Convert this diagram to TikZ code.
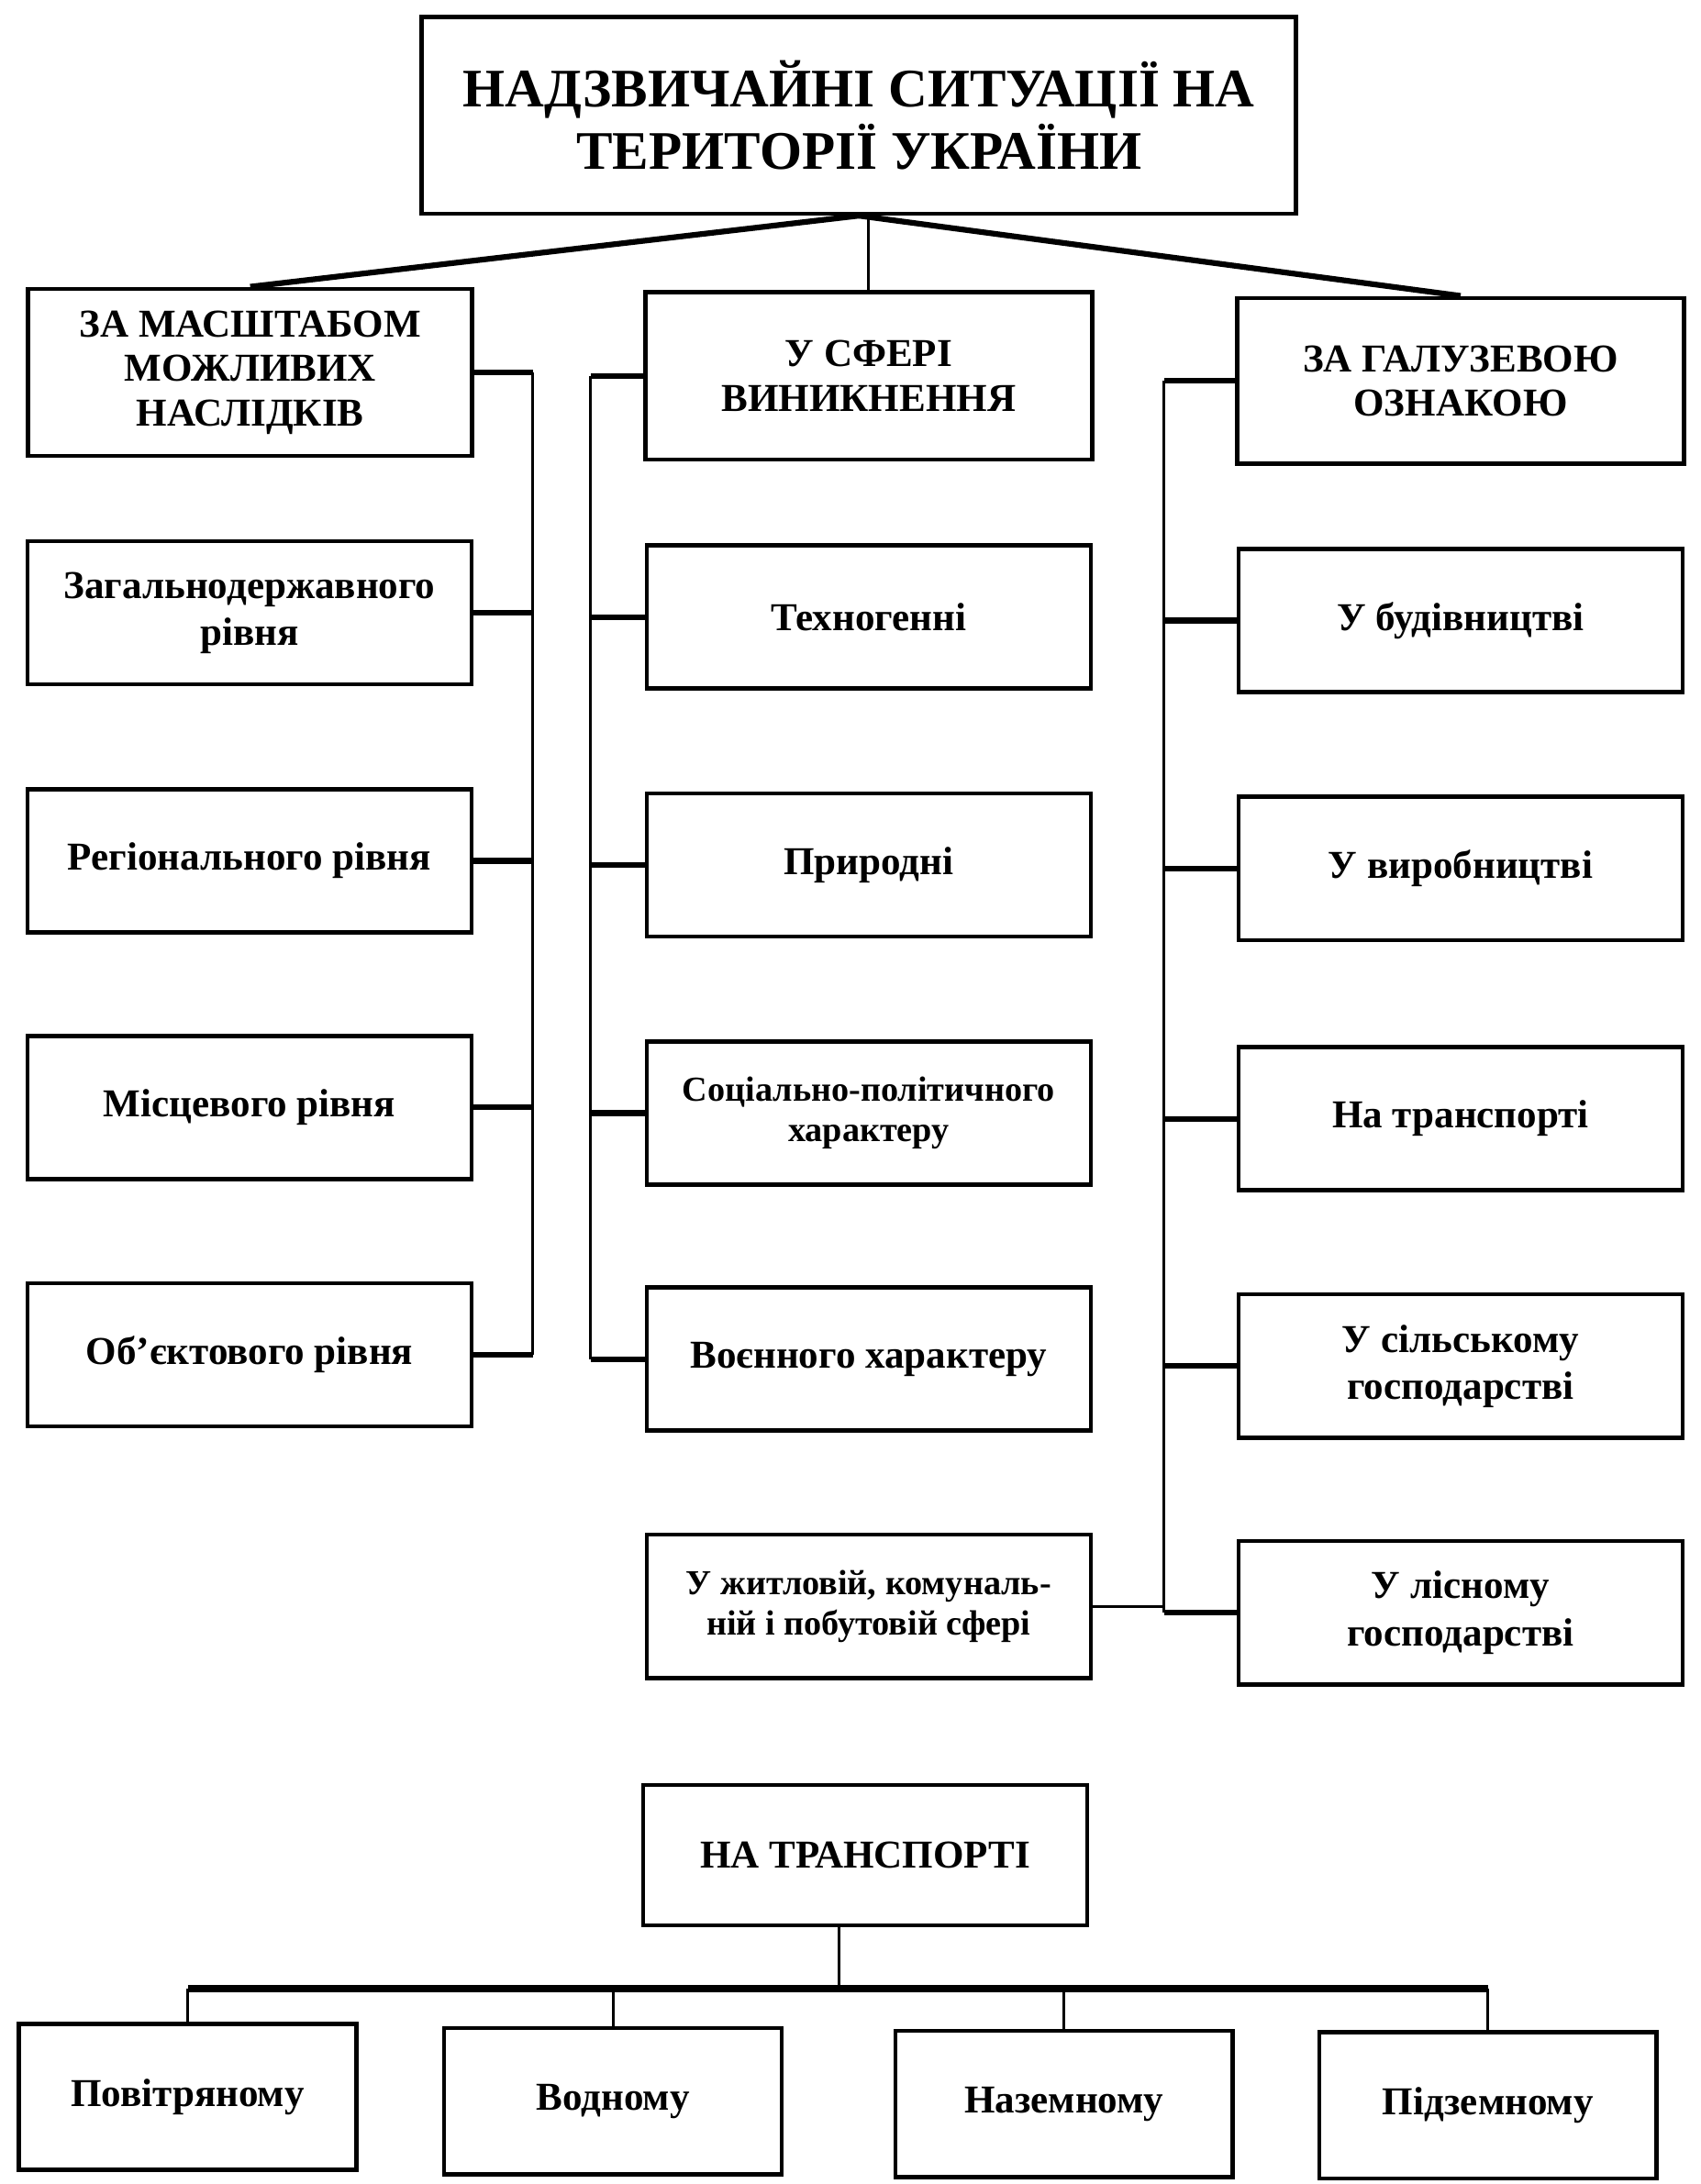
\documentclass[tikz,border=0pt]{standalone}
\usepackage{fontspec}
\setmainfont{Liberation Serif}
\usetikzlibrary{calc}
\tikzset{
  box/.style={draw, line width=1.7pt, align=center, inner sep=0pt, font=\bfseries\fontsize{16}{19}\selectfont},
  smalltext/.style={font=\bfseries\fontsize{14.2}{16.5}\selectfont},
  headbox/.style={box, font=\bfseries\fontsize{16}{18}\selectfont},
  titlebox/.style={box, font=\bfseries\fontsize{22}{25.5}\selectfont},
  colbox/.style={box, minimum width=6.32cm, minimum height=2.04cm},
  lowbox/.style={box, minimum width=4.8cm, minimum height=2.08cm},
  thickline/.style={line width=2.3pt},
  busline/.style={line width=1.1pt},
}
\begin{document}
\begin{tikzpicture}[x=0.02cm,y=-0.02cm]
\useasboundingbox (0,0) rectangle (1210,1554);
% title
\node[titlebox, minimum width=12.44cm, minimum height=2.8cm] (top) at (611,82) {НАДЗВИЧАЙНІ СИТУАЦІЇ НА\\ТЕРИТОРІЇ УКРАЇНИ};
% level 1
\node[headbox, minimum width=6.32cm, minimum height=2.38cm] (hl) at (178,265) {ЗА МАСШТАБОМ\\МОЖЛИВИХ\\НАСЛІДКІВ};
\node[headbox, minimum width=6.36cm, minimum height=2.38cm] (hm) at (618,267.5) {У СФЕРІ\\ВИНИКНЕННЯ};
\node[headbox, minimum width=6.36cm, minimum height=2.36cm] (hr) at (1039,271) {ЗА ГАЛУЗЕВОЮ\\ОЗНАКОЮ};
% left column
\node[colbox] (l1) at (177.5,436) {Загальнодержавного\\рівня};
\node[colbox] (l2) at (177.5,612.5) {Регіонального рівня};
\node[colbox] (l3) at (177.5,788) {Місцевого рівня};
\node[colbox] (l4) at (177.5,964) {Об’єктового рівня};
% middle column
\node[colbox] (m1) at (618,439) {Техногенні};
\node[colbox] (m2) at (618,615.5) {Природні};
\node[colbox, smalltext] (m3) at (618,792) {Соціально-політичного\\характеру};
\node[colbox] (m4) at (618,967) {Воєнного характеру};
\node[colbox, smalltext] (m5) at (618,1143) {У житловій, комуналь-\\ній і побутовій сфері};
% right column
\node[colbox] (r1) at (1039,441.5) {У будівництві};
\node[colbox] (r2) at (1039,618) {У виробництві};
\node[colbox] (r3) at (1039,796) {На транспорті};
\node[colbox] (r4) at (1039,972) {У сільському\\господарстві};
\node[colbox] (r5) at (1039,1147.5) {У лісному\\господарстві};
% bottom
\node[colbox, minimum height=2.0cm] (t) at (615.5,1320) {НА ТРАНСПОРТІ};
\node[lowbox] (b1) at (133.5,1492) {Повітряному};
\node[lowbox] (b2) at (436,1495) {Водному};
\node[lowbox] (b3) at (757,1497) {Наземному};
\node[lowbox] (b4) at (1058.5,1498) {Підземному};

% connectors from title
\draw[thickline] (top.south) -- (hl.north);
\draw[thickline] (top.south) -- (hr.north);
\draw[busline] (top.south -| hm.north) -- (hm.north);

% buses
\coordinate (lb) at (379,0);
\coordinate (mb) at (420,0);
\coordinate (rb) at (828,0);
\draw[busline] (lb |- hl.east) -- (lb |- l4.east);
\draw[busline] (mb |- hm.west) -- (mb |- m4.west);
\draw[busline] (rb |- hr.west) -- (rb |- r5.west);
\foreach \n in {hl,l1,l2,l3,l4} \draw[thickline] (\n.east) -- (lb |- \n.east);
\foreach \n in {hm,m1,m2,m3,m4} \draw[thickline] (\n.west) -- (mb |- \n.west);
\foreach \n in {hr,r1,r2,r3,r4,r5} \draw[thickline] (\n.west) -- (rb |- \n.west);
\draw[busline] (m5.east) -- (rb |- m5.east);

% bottom tree
\coordinate (tj) at (597,1415);
\draw[busline] (t.south -| tj) -- (tj);
\draw[line width=2.8pt] (b1.north |- tj) -- (b4.north |- tj);
\foreach \n in {b1,b2,b3,b4} \draw[busline] (\n.north |- tj) -- (\n.north);
\end{tikzpicture}
\end{document}
